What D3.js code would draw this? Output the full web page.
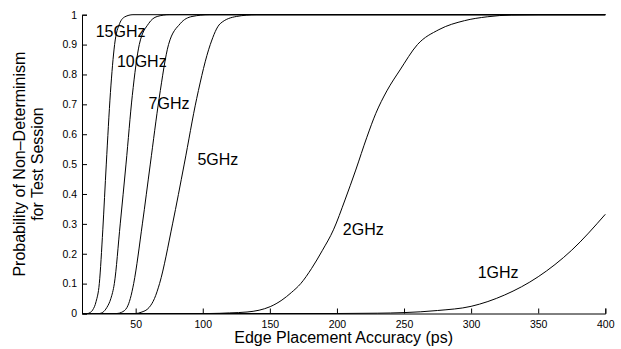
<!DOCTYPE html>
<html>
<head>
<meta charset="utf-8">
<script src="https://cdn.jsdelivr.net/npm/d3@7"></script>
<style>
  body { margin: 0; background: #fff; }
  svg { display: block; font-family: "Liberation Sans", Arial, sans-serif; }
</style>
</head>
<body>
<div id="chart"></div>
<script>
// Data: [edge placement accuracy (ps), probability]
const curve15GHz = [[10, 0], [14, 0], [16, 0.003], [18, 0.012], [20.5, 0.04], [22.9, 0.1], [25.5, 0.28], [28.1, 0.5],
  [31.2, 0.74], [34.3, 0.9], [38, 0.97], [42, 0.993], [48, 1], [400, 1]];
const curve10GHz = [[10, 0], [23, 0], [25.5, 0.004], [28.5, 0.02], [31.5, 0.05], [34.1, 0.1], [38.5, 0.3], [42.8, 0.5],
  [47.5, 0.73], [52.7, 0.9], [59.6, 0.97], [66, 0.994], [75, 1], [400, 1]];
const curve7GHz = [[10, 0], [36, 0], [39.5, 0.004], [43.5, 0.02], [46, 0.05], [48.5, 0.1], [55, 0.3], [60.9, 0.5],
  [67.5, 0.72], [74.5, 0.9], [83.2, 0.97], [92, 0.994], [105, 1], [400, 1]];
const curve5GHz = [[10, 0], [50, 0], [54, 0.004], [60, 0.02], [64, 0.05], [67.8, 0.1], [77.5, 0.3], [86.2, 0.5],
  [95.5, 0.72], [105.6, 0.9], [113, 0.97], [125, 0.994], [140, 1], [400, 1]];
const curve2GHz = [[10, 0], [105, 0], [120, 0.002], [133, 0.005], [142, 0.011], [150.3, 0.023], [159, 0.045],
  [166, 0.07], [173, 0.1], [181, 0.15], [189, 0.21], [197.4, 0.28], [206, 0.38], [214, 0.48], [222.3, 0.59],
  [229, 0.67], [237.2, 0.745], [247, 0.815], [260, 0.9], [276, 0.95], [295, 0.98], [312, 0.993], [330, 0.999],
  [350, 1], [400, 1]];
const curve1GHz = [[10, 0], [200, 0], [230, 0.001], [250, 0.003], [275, 0.01], [300, 0.024], [325, 0.062],
  [350, 0.123], [375, 0.212], [400, 0.332]];

const curves = [curve15GHz, curve10GHz, curve7GHz, curve5GHz, curve2GHz, curve1GHz];

// Curve labels: [text, x (ps), y (probability)] where the text starts
const curveLabels = [["15GHz", 20.2, 0.924], ["10GHz", 36, 0.826], ["7GHz", 59.6, 0.683],
  ["5GHz", 96, 0.497], ["2GHz", 204.4, 0.263], ["1GHz", 304.9, 0.118]];

const xTicks = [50, 100, 150, 200, 250, 300, 350, 400];
const yTicks = [0, 0.1, 0.2, 0.3, 0.4, 0.5, 0.6, 0.7, 0.8, 0.9, 1];

// Canvas ---------------------------------------------------------------------
const canvasWidth = 621;
const canvasHeight = 349;

const leftEdge = 82;
const rightEdge = 605.3;
const topEdge = 14.7;
const bottomEdge = 313.5;

const svg = d3.select("#chart")
  .append("svg")
  .attr("width", canvasWidth)
  .attr("height", canvasHeight);

const xScale = d3.scaleLinear().domain([10, 400]).range([leftEdge, rightEdge]);
const yScale = d3.scaleLinear().domain([0, 1]).range([bottomEdge, topEdge]);

const tickFontSize = 10.5;
const titleFontSize = 16;

// Axes (ticks pointing inward, matlab style) -----------------------------------
const xAxis = svg.append("g")
  .attr("transform", "translate(0," + bottomEdge + ")")
  .call(d3.axisBottom(xScale).tickValues(xTicks).tickSizeInner(-5).tickSizeOuter(-5).tickPadding(8));
xAxis.selectAll("text")
  .style("font-size", tickFontSize)
  .attr("dy", "0.71em")
  .attr("y", 7);

const yAxis = svg.append("g")
  .attr("transform", "translate(" + leftEdge + ",0)")
  .call(d3.axisLeft(yScale).tickValues(yTicks).tickFormat(d3.format("")).tickSizeInner(-5).tickSizeOuter(-5).tickPadding(5));
yAxis.selectAll("text")
  .style("font-size", tickFontSize)
  .attr("x", -5);

svg.selectAll(".domain, .tick line")
  .attr("stroke", "#000")
  .attr("stroke-width", 1);
svg.selectAll(".tick text").attr("fill", "#000");

// Curves ----------------------------------------------------------------------
const line = d3.line()
  .x(d => xScale(d[0]))
  .y(d => yScale(d[1]))
  .curve(d3.curveMonotoneX);

svg.append("g")
  .selectAll("path")
  .data(curves)
  .join("path")
  .attr("d", line)
  .attr("fill", "none")
  .attr("stroke", "#000")
  .attr("stroke-width", 1);

svg.append("g")
  .selectAll("text")
  .data(curveLabels)
  .join("text")
  .attr("x", d => xScale(d[1]))
  .attr("y", d => yScale(d[2]))
  .style("font-size", titleFontSize)
  .text(d => d[0]);

// Axis titles -------------------------------------------------------------------
svg.append("text")
  .text("Edge Placement Accuracy (ps)")
  .attr("x", (leftEdge + rightEdge) / 2)
  .attr("y", 343)
  .style("text-anchor", "middle")
  .style("font-size", titleFontSize);

const yTitle = svg.append("text")
  .attr("transform", "translate(25," + (topEdge + bottomEdge) / 2 + ") rotate(-90)")
  .style("text-anchor", "middle")
  .style("font-size", titleFontSize);
yTitle.append("tspan").attr("x", 0).attr("y", 0).text("Probability of Non\u2013Determinism");
yTitle.append("tspan").attr("x", 0).attr("y", 18).text("for Test Session");
</script>
</body>
</html>
